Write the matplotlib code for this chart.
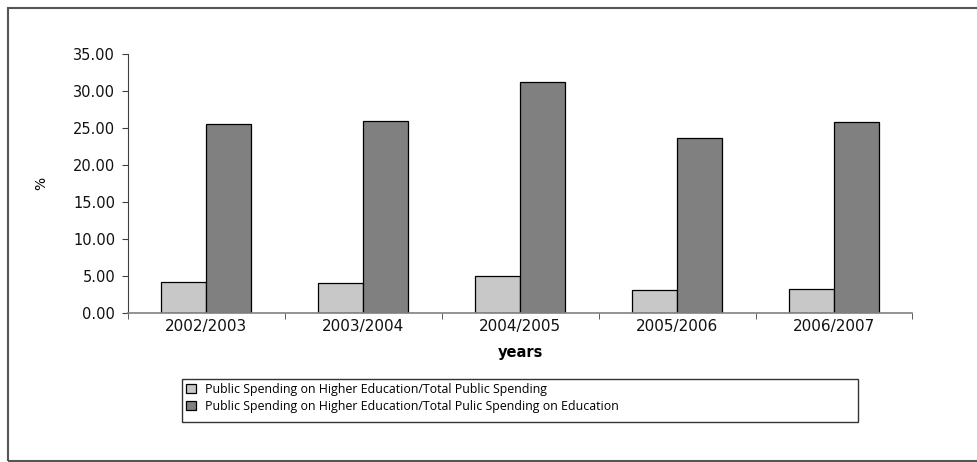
import matplotlib.pyplot as plt
import numpy as np
from matplotlib.patches import Rectangle

plt.rcParams['font.family'] = ['DejaVu Sans']

# academic years and the two spending ratios (%)
years = ['2002/2003', '2003/2004', '2004/2005', '2005/2006', '2006/2007']
share_total = [4.19, 4.10, 5.00, 3.15, 3.30]
share_education = [25.55, 26.00, 31.30, 23.65, 25.80]

labels = [
    'Public Spending on Higher Education/Total Public Spending',
    'Public Spending on Higher Education/Total Pulic Spending on Education',
]
colors = ['#c8c8c8', '#808080']

W, H = 978, 462
fig = plt.figure(figsize=(W / 100, H / 100), dpi=100)
ax = fig.add_axes([127.7 / W, 1 - 313.3 / H, (912.5 - 127.7) / W, (313.3 - 54.3) / H])

x = np.arange(len(years))
width = 1 / 3.5
ax.bar(x - width / 2, share_total, width, color=colors[0], edgecolor='black', linewidth=0.9, label=labels[0])
ax.bar(x + width / 2, share_education, width, color=colors[1], edgecolor='black', linewidth=0.9, label=labels[1])

ax.set_xlim(-0.5, len(years) - 0.5)
ax.set_ylim(0, 35)
ax.set_yticks(np.arange(0, 35.1, 5))
ax.set_yticklabels([f'{v:.2f}' for v in np.arange(0, 35.1, 5)])

# category labels centred, tick marks on the boundaries
ax.set_xticks(x)
ax.set_xticklabels(years)
ax.tick_params(axis='x', length=0, pad=4, labelsize=11)
ax.set_xticks(np.arange(-0.5, len(years)), minor=True)
ax.tick_params(axis='x', which='minor', length=4, color='#404040', direction='out')
ax.tick_params(axis='y', length=4, color='#404040', direction='out', pad=5, labelsize=10.5)
ax.tick_params(labelcolor='#111111')

for side in ['top', 'right']:
    ax.spines[side].set_visible(False)
ax.spines['left'].set_color('#404040')
ax.spines['bottom'].set_color('#808080')
ax.spines['bottom'].set_linewidth(1.2)

ax.set_xlabel('years', fontsize=10.5, fontweight='bold', labelpad=8)
ax.set_ylabel('%', fontsize=10, labelpad=18)

# legend entries, with their own box drawn separately below
leg_box = (182, 379, 858, 422)
fig.legend(
    loc='upper left',
    bbox_to_anchor=(leg_box[0] / W, 1 - leg_box[1] / H),
    borderaxespad=0, borderpad=0.3, frameon=False,
    handlelength=0.8, handleheight=0.7, handletextpad=0.8, labelspacing=0.35,
    prop={'family': 'Open Sans', 'size': 8.9},
)
fig.add_artist(Rectangle((leg_box[0] / W, 1 - leg_box[3] / H),
                         (leg_box[2] - leg_box[0]) / W, (leg_box[3] - leg_box[1]) / H,
                         transform=fig.transFigure, fill=False, edgecolor='#333333', linewidth=1.0))

# outer chart border
fig.add_artist(Rectangle((8 / W, 1.5 / H), 1.0, 1 - 9.5 / H, transform=fig.transFigure,
                         fill=False, edgecolor='#555555', linewidth=1.5))

fig.savefig('out.png', dpi=100)
